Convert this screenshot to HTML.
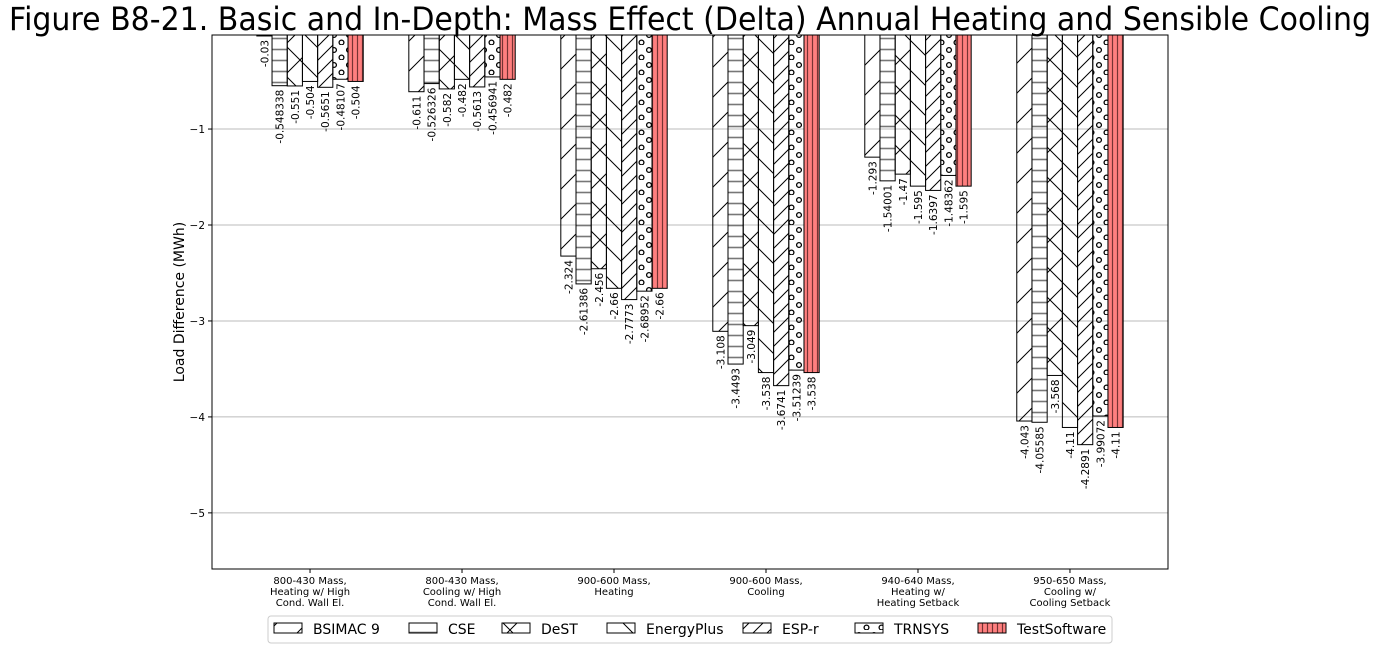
<!DOCTYPE html>
<html><head><meta charset="utf-8"><style>
html,body{margin:0;padding:0;background:#fff;}
svg{display:block;font-family:"DejaVu Sans","Liberation Sans",sans-serif;}
</style></head><body>
<svg id="chart" width="1380" height="649" xmlns="http://www.w3.org/2000/svg">
<defs>
<pattern id="p0" patternUnits="userSpaceOnUse" width="30" height="30"><path d="M-1,31 L31,-1 M-16,16 L16,-16 M14,46 L46,14" stroke="#000" stroke-width="1"/></pattern>
<pattern id="p1" patternUnits="userSpaceOnUse" width="15" height="11"><path d="M0,5.5 H15" stroke="#777" stroke-width="1.6"/></pattern>
<pattern id="p2" patternUnits="userSpaceOnUse" width="30" height="30"><path d="M0,0 L30,30 M0,30 L30,0" stroke="#000" stroke-width="1"/></pattern>
<pattern id="p3" patternUnits="userSpaceOnUse" width="30" height="30"><path d="M-1,-1 L31,31 M-16,14 L16,46 M14,-16 L46,16" stroke="#000" stroke-width="1"/></pattern>
<pattern id="p4" patternUnits="userSpaceOnUse" width="14" height="14"><path d="M-1,15 L15,-1 M-8,8 L8,-8 M6,22 L22,6" stroke="#000" stroke-width="1"/></pattern>
<pattern id="p5" patternUnits="userSpaceOnUse" width="15" height="15"><circle cx="4" cy="5" r="2.4" fill="none" stroke="#000" stroke-width="1.3"/><circle cx="11.5" cy="12.5" r="2.4" fill="none" stroke="#000" stroke-width="1.3"/></pattern>
<pattern id="p6" patternUnits="userSpaceOnUse" width="5" height="10"><rect width="5" height="10" fill="#ff7f7f"/><path d="M2.5,0 V10" stroke="#733" stroke-width="1.2"/></pattern>
</defs>
<text x="690" y="30" text-anchor="middle" font-size="32" textLength="1362" lengthAdjust="spacingAndGlyphs">Figure B8-21. Basic and In-Depth: Mass Effect (Delta) Annual Heating and Sensible Cooling</text>
<g id="grid"></g>
<g id="bars"></g>
<g id="axes"></g>
<text transform="translate(184,302) rotate(-90)" text-anchor="middle" font-size="14">Load Difference (MWh)</text>
<g id="legend"></g>
</svg>
<script>
const categories=[["800-430 Mass,","Heating w/ High","Cond. Wall El."],["800-430 Mass,","Cooling w/ High","Cond. Wall El."],["900-600 Mass,","Heating"],["900-600 Mass,","Cooling"],["940-640 Mass,","Heating w/","Heating Setback"],["950-650 Mass,","Cooling w/","Cooling Setback"]];
const seriesNames=["BSIMAC 9","CSE","DeST","EnergyPlus","ESP-r","TRNSYS","TestSoftware"];
const bsimac=[-0.03,-0.611,-2.324,-3.108,-1.293,-4.043];
const cse=[-0.548338,-0.526326,-2.61386,-3.4493,-1.54001,-4.05585];
const dest=[-0.551,-0.582,-2.456,-3.049,-1.47,-3.568];
const eplus=[-0.504,-0.482,-2.66,-3.538,-1.595,-4.11];
const espr=[-0.5651,-0.5613,-2.7773,-3.6741,-1.6397,-4.2891];
const trnsys=[-0.48107,-0.456941,-2.68952,-3.51239,-1.48362,-3.99072];
const testsw=[-0.504,-0.482,-2.66,-3.538,-1.595,-4.11];
const labels=[["-0.03","-0.611","-2.324","-3.108","-1.293","-4.043"],["-0.548338","-0.526326","-2.61386","-3.4493","-1.54001","-4.05585"],["-0.551","-0.582","-2.456","-3.049","-1.47","-3.568"],["-0.504","-0.482","-2.66","-3.538","-1.595","-4.11"],["-0.5651","-0.5613","-2.7773","-3.6741","-1.6397","-4.2891"],["-0.48107","-0.456941","-2.68952","-3.51239","-1.48362","-3.99072"],["-0.504","-0.482","-2.66","-3.538","-1.595","-4.11"]];
const yTicks=[-5,-4,-3,-2,-1];
const series=[bsimac,cse,dest,eplus,espr,trnsys,testsw];
const NS="http://www.w3.org/2000/svg";
const L=212,R=1168,T=35,B=569;
const yMin=-5.585,yMax=-0.02;
const xMin=-0.645,xMax=5.645;
const y=v=>T+(yMax-v)/(yMax-yMin)*(B-T);
const x=v=>L+(v-xMin)/(xMax-xMin)*(R-L);
const bw=0.1;
function mk(tag,attrs,parent){const e=document.createElementNS(NS,tag);for(const k in attrs)e.setAttribute(k,attrs[k]);parent.appendChild(e);return e;}
const grid=document.getElementById('grid'),bars=document.getElementById('bars'),axes=document.getElementById('axes'),leg=document.getElementById('legend');
yTicks.forEach(t=>{
 const g=mk('line',{x1:L,x2:R,y1:y(t),y2:y(t),stroke:'#bbb','stroke-width':1},grid);
 
 
 mk('line',{x1:L-4,x2:L,y1:y(t),y2:y(t),stroke:'#000'},axes);
 const tl=mk('text',{x:L-7,y:y(t)+4,'text-anchor':'end','font-size':10.5},axes);
 tl.textContent='\u2212'+Math.abs(t);
 
 
});
series.forEach((s,si)=>{
 s.forEach((v,ci)=>{
  const xl=x(ci+(si-3.5)*bw),xr=x(ci+(si-2.5)*bw);
  const r=mk('rect',{x:xl,y:T,width:xr-xl,height:y(v)-T,fill:'url(#p'+si+')',stroke:'#000','stroke-width':1},bars);
  
  
  const cx=(xl+xr)/2+4;
  const tx=mk('text',{transform:'translate('+cx+','+(y(v)+4)+') rotate(-90)','text-anchor':'end','font-size':10.5},bars);
  tx.textContent=labels[si][ci];
  
  
 });
});
mk('rect',{x:L,y:T,width:R-L,height:B-T,fill:'none',stroke:'#000','stroke-width':1},axes);
categories.forEach((c,ci)=>{
 mk('line',{x1:x(ci),x2:x(ci),y1:B,y2:B+4,stroke:'#000'},axes);
 c.forEach((ln,li)=>{
  const t=mk('text',{x:x(ci),y:B+15+li*11,'text-anchor':'middle','font-size':10},axes);
  t.textContent=ln;
  
  
 });
});
mk('rect',{x:268,y:616,width:844,height:27,fill:'#fff',stroke:'#ccc',rx:3},leg);
const lx=[274,409,502,607,743,855,978];
seriesNames.forEach((n,i)=>{
 const sw=mk('rect',{x:lx[i],y:623,width:28,height:10,fill:'url(#p'+i+')',stroke:'#000'},leg);
 
 
 const t=mk('text',{x:lx[i]+39,y:634,'font-size':14},leg);
 t.textContent=n;
 
 
});
</script>
</body></html>
